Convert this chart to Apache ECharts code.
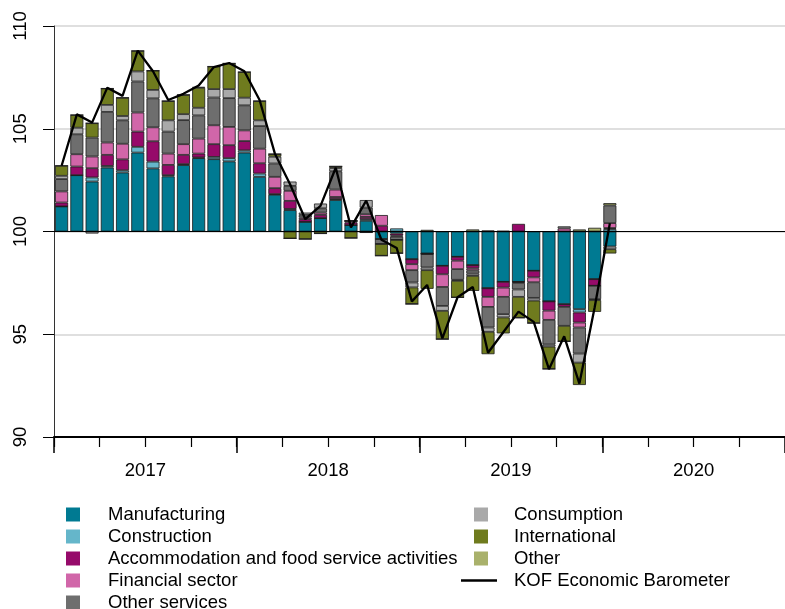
<!DOCTYPE html>
<html>
<head>
<meta charset="utf-8">
<script src="https://cdn.jsdelivr.net/npm/echarts@6/dist/echarts.min.js"></script>
<style>
	html, body { margin: 0; padding: 0; background: #fff; }
	#chart { width: 785px; height: 609px; }
</style>
</head>
<body>
<div id="chart"></div>
<script>
	var years = ["2017", "2018", "2019", "2020"];
	//月份类目
	var months = [];
	for(var y = 0; y < years.length; y++) {
		for(var m = 1; m <= 12; m++) {
			months.push(years[y] + "-" + (m < 10 ? "0" + m : m));
		}
	}

	//各部门贡献（相对100的偏离）
	var manufacturing = [1.22, 2.74, 2.43, 3.11, 2.87, 3.84, 3.07, 2.68, 3.23, 3.57, 3.52, 3.41,
		3.84, 2.66, 1.79, 1.04, 0.47, 0.65, 1.53, 0.31, 0.52, -0.37, -0.1, -1.35,
		-1.07, -1.67, -1.23, -1.64, -2.76, -2.45, -2.45, -1.91, -3.4, -3.54, -3.78, -2.32,
		-0.73];
	var construction = [0, 0, 0.2, 0.08, 0.11, 0.28, 0.33, 0.06, 0.05, 0.03, 0.11, 0.16,
		0.11, 0.16, 0.03, 0.06, 0, 0, 0.05, 0, 0.08, 0, 0.15, 0,
		0, 0, 0, 0, 0, 0, 0, 0, 0, 0, -0.16, 0,
		0.12];
	var accommodation = [0.19, 0.42, 0.45, 0.54, 0.53, 0.74, 0.99, 0.5, 0.45, 0.19, 0.62, 0.63,
		0.45, 0.5, 0.29, 0.39, 0.13, 0.16, 0.1, 0.13, 0.11, 0.28, -0.1, -0.24,
		-0.03, -0.41, -0.19, -0.15, -0.42, -0.28, 0.37, -0.32, -0.45, -0.13, -0.49, -0.32,
		0.05];
	var financial = [0.54, 0.6, 0.57, 0.6, 0.76, 0.93, 0.68, 0.55, 0.52, 0.73, 0.92, 0.89,
		0.52, 0.71, 0.55, 0.49, 0.08, 0.11, 0.36, 0.08, 0.13, 0.52, -0.05, -0.29,
		0, -0.62, -0.41, -0.1, -0.49, -0.45, -0.05, -0.24, -0.45, 0.15, -0.24, 0,
		0.24];
	var otherServices = [0.6, 0.97, 0.92, 1.49, 1.14, 1.51, 1.41, 1.07, 1.17, 1.13, 1.35, 1.4,
		1.22, 1.1, 0.65, 0.24, 0.13, 0.21, 0.89, 0, 0.32, -0.24, -0.16, -0.6,
		-0.65, -0.92, -0.52, -0.16, -1.0, -0.84, -0.32, -0.76, -1.2, -0.92, -1.27, -0.65,
		0.86];
	var consumption = [0.16, 0.32, -0.1, 0.34, 0.21, 0.49, 0.41, 0.55, 0.29, 0.37, 0.41, 0.44,
		0.37, 0.28, 0.33, 0.21, 0.11, 0.23, 0.16, 0, 0.37, 0, 0, -0.24,
		-0.13, -0.24, -0.05, -0.11, -0.21, -0.16, -0.36, -0.13, -0.1, 0.1, -0.44, -0.05,
		-0.13];
	var international = [0.49, 0.62, 0.7, 0.8, 0.89, 1.0, 0.94, 0.94, 0.94, 0.97, 1.1, 1.25,
		1.25, 0.94, 0.13, -0.34, -0.37, -0.1, 0.08, -0.32, -0.05, -0.57, -0.65, -0.81,
		-0.91, -1.38, -0.81, -0.73, -1.09, -0.78, -1.02, -1.1, -1.09, -0.76, -1.09, -0.57,
		-0.21];
	var other = [0, 0, 0, 0, 0, 0, 0, 0, 0, 0.05, 0, 0,
		0, 0, 0, 0, 0, 0, 0, 0, 0, 0, 0, 0,
		0.08, 0, 0, 0.1, 0.05, 0.03, 0, 0, 0, 0, 0.1, 0.18,
		0.11];
	//KOF经济晴雨表
	var barometer = [103.2, 105.7, 105.3, 107.0, 106.6, 108.8, 107.8, 106.4, 106.7, 107.1, 108.0, 108.2,
		107.8, 106.4, 103.8, 102.3, 100.6, 101.25, 103.1, 100.2, 101.5, 99.6, 99.2, 96.6,
		97.4, 94.8, 96.8, 97.3, 94.1, 95.1, 96.1, 95.6, 93.3, 94.9, 92.6, 96.3,
		100.4];

	var names = ["Manufacturing", "Construction", "Accommodation and food service activities",
		"Financial sector", "Other services", "Consumption", "International", "Other"];
	var colors = ["#007a92", "#65b6ca", "#960a6a", "#d166a9", "#6e6e6e", "#a9a9a9", "#6f7b1e", "#a9b16b"];
	var values = [manufacturing, construction, accommodation, financial, otherServices, consumption, international, other];

	var font = "Liberation Sans, Arial, sans-serif";
	var fontSize = 18.5;

	var series = [];
	for(var i = 0; i < names.length; i++) {
		series.push({
			name: names[i],
			type: "bar",
			stack: "total",
			barWidth: 13,
			data: values[i],
			itemStyle: {
				color: colors[i],
				borderColor: "#1a1a1a",
				borderWidth: 0.8
			}
		});
	}
	series.push({
		name: "KOF Economic Barometer",
		type: "line",
		data: barometer.map(function(v) { return +(v - 100).toFixed(2); }),
		showSymbol: false,
		symbol: "none",
		z: 5,
		lineStyle: { color: "#000", width: 2.3 },
		itemStyle: { color: "#000" },
		markLine: {
			silent: true,
			symbol: "none",
			label: { show: false },
			lineStyle: { color: "#000", width: 1.2, type: "solid" },
			data: [{ yAxis: 0 }]
		}
	});

	function legendText(pad) {
		return { fontFamily: font, fontSize: fontSize, color: "#000", padding: [0, 0, 0, pad] };
	}

	var chart = echarts.init(document.getElementById("chart"));
	var option = {
		animation: false,
		backgroundColor: "#fff",
		grid: { left: 54, top: 26, width: 736, height: 411 },
		legend: [{
			orient: "vertical",
			left: 66, top: 505, height: 140,
			padding: 0,
			itemWidth: 14, itemHeight: 14, itemGap: 3,
			icon: "rect",
			itemStyle: { borderWidth: 0 },
			textStyle: legendText(23),
			data: names.slice(0, 5)
		}, {
			orient: "vertical",
			left: 474, top: 505, height: 140,
			padding: 0,
			itemWidth: 14, itemHeight: 14, itemGap: 3,
			icon: "rect",
			itemStyle: { borderWidth: 0 },
			textStyle: legendText(21),
			data: names.slice(5)
		}, {
			orient: "vertical",
			left: 461, top: 571,
			padding: 0,
			itemWidth: 36, itemHeight: 2.5,
			icon: "rect",
			itemStyle: { color: "#000", borderWidth: 0 },
			textStyle: legendText(12),
			data: ["KOF Economic Barometer"]
		}],
		xAxis: [{
			type: "category",
			data: months,
			boundaryGap: true,
			axisLine: { show: true, onZero: false, lineStyle: { color: "#000", width: 2 } },
			axisTick: { show: true, interval: 2, length: 10, lineStyle: { color: "#000", width: 1.2 } },
			axisLabel: { show: false },
			splitLine: { show: false }
		}, {
			type: "category",
			data: years,
			position: "bottom",
			boundaryGap: true,
			axisLine: { show: false, onZero: false },
			axisTick: { show: true, interval: 0, length: 16, lineStyle: { color: "#000", width: 1.5 } },
			axisLabel: { fontFamily: font, fontSize: fontSize, color: "#000", margin: 24 },
			splitLine: { show: false }
		}],
		yAxis: {
			type: "value",
			min: -10, max: 10, interval: 5,
			axisLine: { show: true, lineStyle: { color: "#333", width: 1 } },
			axisTick: { show: true, length: 11, lineStyle: { color: "#000" } },
			axisLabel: {
				rotate: 90,
				margin: 24,
				fontFamily: font, fontSize: fontSize, color: "#000",
				formatter: function(v) { return v + 100; }
			},
			splitLine: { lineStyle: { color: "#d4d4d4", width: 1.5 } }
		},
		series: series
	};
	chart.setOption(option);
</script>
</body>
</html>
